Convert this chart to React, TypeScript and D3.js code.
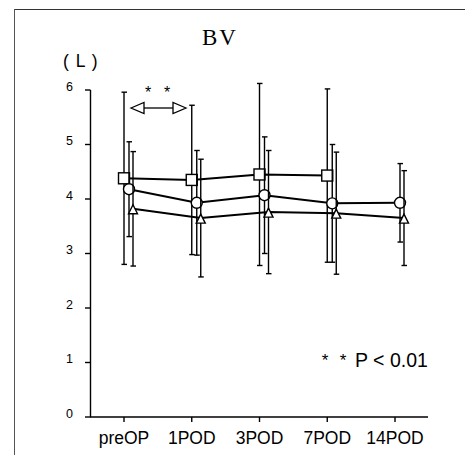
import React from "react";
import * as d3 from "d3";

const categories = ["preOP", "1POD", "3POD", "7POD", "14POD"];
const yTicks = [0, 1, 2, 3, 4, 5, 6];

// series: mean and SD (null = no value)
const squareMean = [4.38, 4.35, 4.45, 4.43, null];
const squareSd = [1.58, 1.37, 1.67, 1.59, null];
const circleMean = [4.18, 3.93, 4.07, 3.92, 3.93];
const circleSd = [0.87, 0.96, 1.07, 1.08, 0.72];
const triangleMean = [3.82, 3.65, 3.76, 3.74, 3.65];
const triangleSd = [1.05, 1.08, 1.13, 1.12, 0.87];

const W = 465;
const H = 455;

export default function App() {
  const x = d3.scalePoint<string>().domain(categories).range([124, 395]);
  const y = d3.scaleLinear().domain([0, 6]).range([417, 90]);
  const line = d3
    .line<[number, number]>()
    .x((d) => d[0])
    .y((d) => d[1]);

  const series = [
    { mean: squareMean, sd: squareSd, dx: 0, shape: "square" },
    { mean: circleMean, sd: circleSd, dx: 5, shape: "circle" },
    { mean: triangleMean, sd: triangleSd, dx: 9, shape: "triangle" },
  ];

  const sw = 1.4;

  return (
    <svg
      width={W}
      height={H}
      style={{ position: "absolute", left: 0, top: 0, background: "#fff" }}
      fontFamily="'Liberation Sans', Arial, sans-serif"
    >
      {/* frame */}
      <line x1={14} y1={9.5} x2={W} y2={9.5} stroke="#333" strokeWidth={1.2} />
      <line x1={14.5} y1={9} x2={14.5} y2={H} stroke="#555" strokeWidth={1} />

      <text
        x={220}
        y={45}
        textAnchor="middle"
        fontFamily="'Liberation Serif', serif"
        fontSize={23}
        letterSpacing={2}
      >
        BV
      </text>
      <text x={63} y={67} fontSize={17.5} letterSpacing={1}>( L )</text>

      {/* y axis */}
      <line x1={90.5} y1={y(6)} x2={90.5} y2={y(0)} stroke="#000" strokeWidth={sw} />
      {yTicks.map((t) => (
        <g key={t}>
          <line x1={85} x2={90.5} y1={y(t)} y2={y(t)} stroke="#000" strokeWidth={sw} />
          <text x={73} y={y(t) + 0.5} textAnchor="end" fontSize={12.5}>
            {t}
          </text>
        </g>
      ))}

      {/* x axis */}
      <line x1={90} x2={428} y1={y(0)} y2={y(0)} stroke="#000" strokeWidth={sw} />
      {categories.map((c) => (
        <g key={c}>
          <line x1={x(c)!} x2={x(c)!} y1={y(0)} y2={y(0) + 5} stroke="#000" strokeWidth={sw} />
          <text x={x(c)!} y={444} textAnchor="middle" fontSize={17.5}>
            {c}
          </text>
        </g>
      ))}

      {/* series */}
      {series.map((s, si) => {
        const pts: [number, number][] = [];
        s.mean.forEach((m, i) => {
          if (m != null) pts.push([x(categories[i])! + s.dx, y(m)]);
        });
        return (
          <g key={si}>
            {s.mean.map((m, i) => {
              if (m == null) return null;
              const cx = x(categories[i])! + s.dx;
              const sd = s.sd[i]!;
              const top = y(m + sd);
              const bot = y(m - sd);
              return (
                <g key={i} stroke="#000" strokeWidth={sw} fill="none">
                  <line x1={cx} x2={cx} y1={top} y2={bot} />
                  <line x1={cx - 2.5} x2={cx + 3} y1={top} y2={top} />
                  <line x1={cx - 2.5} x2={cx + 3} y1={bot} y2={bot} />
                </g>
              );
            })}
            <path d={line(pts)!} fill="none" stroke="#000" strokeWidth={2} />
            {pts.map(([px, py], i) => {
              if (s.shape === "square")
                return (
                  <rect key={i} x={px - 5.5} y={py - 5.5} width={11} height={11} fill="#fff" stroke="#000" strokeWidth={sw} />
                );
              if (s.shape === "circle")
                return <circle key={i} cx={px} cy={py} r={5.5} fill="#fff" stroke="#000" strokeWidth={sw} />;
              return (
                <path
                  key={i}
                  d={`M${px},${py - 4}L${px + 4.5},${py + 5}L${px - 4.5},${py + 5}Z`}
                  fill="#fff"
                  stroke="#000"
                  strokeWidth={sw}
                />
              );
            })}
          </g>
        );
      })}

      {/* significance arrow */}
      <g stroke="#000" strokeWidth={1.3} fill="#fff">
        <line x1={144} x2={173} y1={108} y2={108} />
        <path d="M131,108L144,102.5L144,113.5Z" />
        <path d="M186,108L173,102.5L173,113.5Z" />
      </g>
      <text x={148} y={98} textAnchor="middle" fontSize={16}>*</text>
      <text x={167} y={98} textAnchor="middle" fontSize={16}>*</text>

      <text x={325} y={366} textAnchor="middle" fontSize={17}>*</text>
      <text x={343} y={366} textAnchor="middle" fontSize={17}>*</text>
      <text x={355} y={367} fontSize={19.5}>P &lt; 0.01</text>
    </svg>
  );
}
